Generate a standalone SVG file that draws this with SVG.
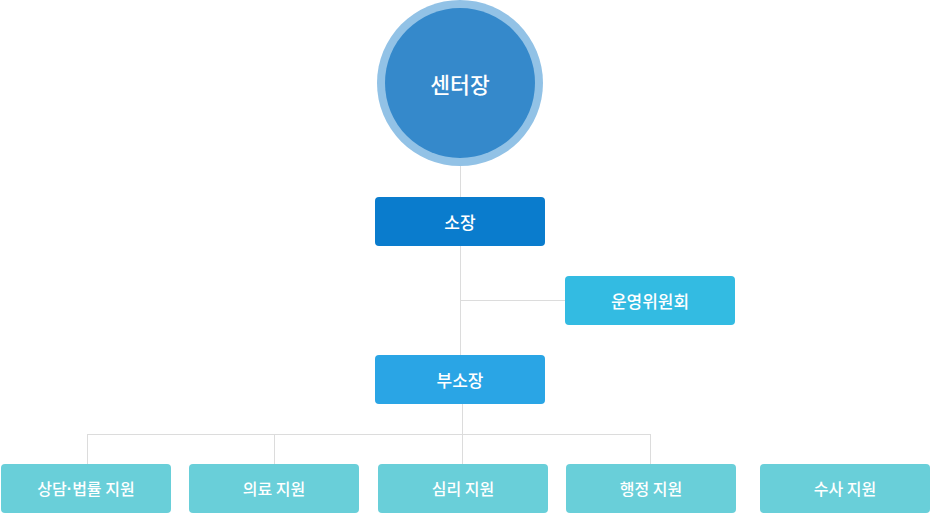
<svg xmlns="http://www.w3.org/2000/svg" width="930" height="513" viewBox="0 0 930 513">
<style>
.t{font-family:"Noto Sans CJK KR","Noto Sans",sans-serif;fill:#fff;text-anchor:middle;dominant-baseline:central;font-weight:500}
.dot{font-family:"Liberation Sans",sans-serif;font-weight:bold}
.l{stroke:#dcdcdc;stroke-width:1;fill:none}
.sub{fill:#69cfd9}
</style>
<rect width="930" height="513" fill="#fff"/>
<g id="connectors">
<path class="l" d="M460.5 166V197M460.5 246V355M460.5 300.5H565M462.5 404V464M87.5 434.5H650.5M87.5 434V464M274.5 434V464M650.5 434V464"/>
</g>
<g id="center">
<circle cx="460" cy="83" r="83" fill="#92c2e6"/>
<circle cx="460" cy="83" r="75" fill="#3589cb"/>
<text class="t" x="460" y="83" font-size="21.5">센터장</text>
</g>
<g id="director">
<rect x="375" y="197" width="170" height="49" rx="4" fill="#0a7ccd"/>
<text class="t" x="460" y="221" font-size="17">소장</text>
</g>
<g id="committee">
<rect x="565" y="276" width="170" height="49" rx="4" fill="#33bbe2"/>
<text class="t" x="650" y="300" font-size="17">운영위원회</text>
</g>
<g id="deputy">
<rect x="375" y="355" width="170" height="49" rx="4" fill="#2aa5e5"/>
<text class="t" x="460" y="379" font-size="17">부소장</text>
</g>
<g id="legal">
<rect class="sub" x="1" y="464" width="170" height="49" rx="4"/>
<text class="t" x="86" y="488" font-size="16">상담<tspan class="dot">·</tspan>법률 지원</text>
</g>
<g id="medical">
<rect class="sub" x="189" y="464" width="170" height="49" rx="4"/>
<text class="t" x="274" y="488" font-size="16">의료 지원</text>
</g>
<g id="psych">
<rect class="sub" x="378" y="464" width="170" height="49" rx="4"/>
<text class="t" x="463" y="488" font-size="16">심리 지원</text>
</g>
<g id="admin">
<rect class="sub" x="566" y="464" width="170" height="49" rx="4"/>
<text class="t" x="651" y="488" font-size="16">행정 지원</text>
</g>
<g id="investigation">
<rect class="sub" x="760" y="464" width="170" height="49" rx="4"/>
<text class="t" x="845" y="488" font-size="16">수사 지원</text>
</g>
</svg>
